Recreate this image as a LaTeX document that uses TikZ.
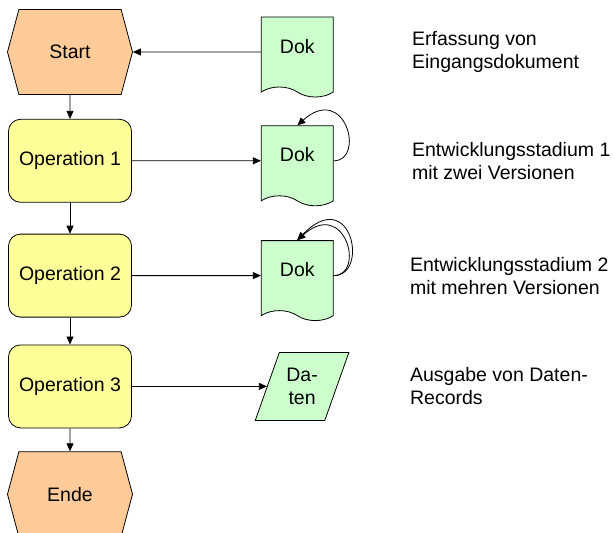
\documentclass[tikz,border=0pt]{standalone}
\usepackage{fontspec}
\setmainfont{Liberation Sans}
\usetikzlibrary{shapes.symbols, shapes.geometric, positioning, arrows.meta}
\definecolor{evorange}{RGB}{255,204,153}
\definecolor{opyellow}{RGB}{255,255,153}
\definecolor{dokgreen}{RGB}{204,255,204}
\tikzset{
>={Triangle[length=8pt,width=7pt]}, % filled arrow heads
every node/.style={font=\fontsize{19.5}{23}\selectfont}, % Arial-like text everywhere
event/.style={signal, signal to=east and west, signal pointer angle=150, draw, fill=evorange, minimum width=125pt, minimum height=85pt}, % start and end
operation/.style={rectangle, rounded corners=12pt, draw, fill=opyellow, minimum width=123pt, minimum height=83pt}, % processing steps
dokument/.style={tape, tape bend top=none, tape bend bottom=out and in, tape bend height=10pt, draw, fill=dokgreen, minimum width=72pt, minimum height=80pt, text depth=12pt}, % documents, text sits a bit high
record/.style={trapezium, trapezium left angle=65, trapezium right angle=115, trapezium stretches=true, draw, fill=dokgreen, minimum width=94pt, minimum height=68pt, align=center}, % data output
remark/.style={align=left, inner sep=0pt}, % texts on the right
}

\begin{document}
\begin{tikzpicture}[x=1pt, y=1pt, line width=0.8pt]
      \useasboundingbox (0,0) rectangle (614,-533);
      \node[event] (start) at (70,-52) {Start};
      \node[operation, below=24pt of start] (op1) {Operation 1};
      \node[operation, below=31pt of op1] (op2) {Operation 2};
      \node[operation, below=27pt of op2] (op3) {Operation 3};
      \node[event, below=23pt of op3] (ende) {Ende};

      \node[dokument, right=128pt of start] (dok1) {Dok};
      \node[dokument, right=129pt of op1] (dok2) {Dok};
      \node[dokument, right=129pt of op2] (dok3) {Dok};
      \node[record, right=135pt of op3] (daten) {Da-\\ten};

      \node[remark, right=78pt of dok1] (txt1) {Erfassung von\\Eingangsdokument};
      \node[remark, right=78pt of dok2] (txt2) {Entwicklungsstadium 1\\mit zwei Versionen};
      \node[remark, right=76pt of dok3] (txt3) {Entwicklungsstadium 2\\mit mehren Versionen};
      \node[remark, anchor=west] (txt4) at (txt3.west |- daten) {Ausgabe von Daten-\\Records};

      \draw[->] (start) -- (op1);
      \draw[->] (op1) -- (op2);
      \draw[->] (op2) -- (op3);
      \draw[->] (op3) -- (ende);
      \draw[->] (dok1) -- (start);
      \draw[->] (op1) -- (dok2);
      \draw[->] (op2) -- (dok3);
      \draw[->] (op3) -- (daten);

      \draw[->] (dok2.east) .. controls +(32,0) and +(48,43) .. (dok2.north);
      \draw[->] (dok3.east) .. controls +(32,0) and +(48,43) .. (dok3.north);
      \draw[->] (dok3.east) .. controls +(36,0) and +(54,56) .. (dok3.north);
\end{tikzpicture}
\end{document}
